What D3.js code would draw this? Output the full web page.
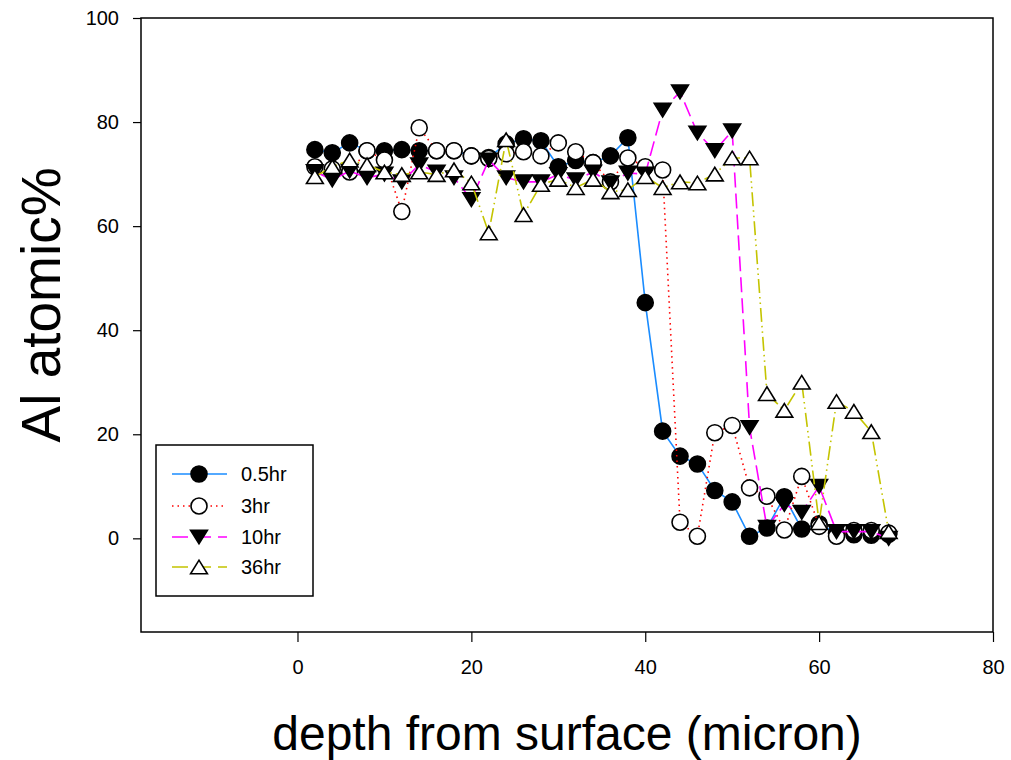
<!DOCTYPE html>
<html>
<head>
<meta charset="utf-8">
<script src="https://cdn.jsdelivr.net/npm/d3@7"></script>
<style>
  html, body { margin: 0; padding: 0; background: #fff; }
  svg { display: block; }
  text { font-family: "Liberation Sans", Arial, sans-serif; fill: #000; }
</style>
</head>
<body>
<svg id="chart" width="1011" height="760"></svg>
<script>
// Depth (micron) of each measurement
const depth = [2,4,6,8,10,12,14,16,18,20,22,24,26,28,30,32,34,36,38,40,42,44,46,48,50,52,54,56,58,60,62,64,66,68];

// Al atomic% per anneal time
const al05hr = [74.7,74.1,76.0,74.5,74.5,74.7,74.5,74.5,74.5,73.5,73.2,75.8,76.8,76.4,71.4,72.6,72.2,73.5,77.0,45.3,20.6,15.8,14.3,9.2,7.0,0.4,2.0,8.0,1.8,2.8,1.0,0.7,0.6,0.8];
const al3hr  = [71.4,71.0,70.4,74.5,72.7,62.8,78.9,74.5,74.5,73.5,73.0,73.9,74.3,73.5,76.0,74.3,72.2,68.5,73.1,71.4,70.8,3.1,0.4,20.3,21.7,9.7,8.1,1.6,11.9,2.3,0.4,1.5,1.5,1.0];
const al10hr = [70.5,68.9,70.6,69.3,70.0,68.5,71.8,70.4,69.3,65.1,72.7,69.3,68.5,68.5,69.9,68.9,70.4,68.3,70.2,70.0,82.3,85.8,77.9,74.5,78.3,21.3,2.1,6.5,5.0,10.0,1.3,1.3,1.3,0.0];
const al36hr = [69.5,71.4,72.7,71.8,70.4,69.9,70.4,69.9,70.8,68.3,58.7,76.6,62.2,68.0,69.0,67.4,69.0,66.6,67.0,69.5,67.4,68.5,68.3,70.0,73.1,73.1,27.8,24.6,30.0,3.0,26.3,24.4,20.5,1.3];

const seriesNames = ["0.5hr","3hr","10hr","36hr"];
const xTicks = [0,20,40,60,80];
const yTicks = [0,20,40,60,80,100];

const series = [
  { name: seriesNames[0], values: al05hr, color: "#1a8cff", dash: null,              marker: "circleFilled" },
  { name: seriesNames[1], values: al3hr,  color: "#ff0000", dash: "1.5,4",           marker: "circleOpen" },
  { name: seriesNames[2], values: al10hr, color: "#ff00ff", dash: "15,6",            marker: "triDown" },
  { name: seriesNames[3], values: al36hr, color: "#c4c400", dash: "14,4,1.5,4,1.5,4", marker: "triUp" }
];

const svg = d3.select("#chart");
const plotL = 141, plotR = 993, plotT = 18, plotB = 632;

const x = d3.scaleLinear().domain([-18, 80]).range([plotL, plotR]);
const y = d3.scaleLinear().domain([-18, 100]).range([plotB, plotT]);

// plot frame
svg.append("rect")
  .attr("x", plotL).attr("y", plotT)
  .attr("width", plotR - plotL).attr("height", plotB - plotT)
  .attr("fill", "none").attr("stroke", "#000").attr("stroke-width", 1.5);

// axes
const xAxis = svg.append("g")
  .attr("transform", `translate(0,${plotB})`)
  .call(d3.axisBottom(x).tickValues(xTicks).tickSize(10).tickPadding(18).tickFormat(d3.format("d")));
xAxis.select(".domain").remove();
xAxis.selectAll("line").attr("stroke-width", 1.2);
xAxis.selectAll("text").style("font-size", "20px");

const yAxis = svg.append("g")
  .attr("transform", `translate(${plotL},0)`)
  .call(d3.axisLeft(y).tickValues(yTicks).tickSize(8).tickPadding(14).tickFormat(d3.format("d")));
yAxis.select(".domain").remove();
yAxis.selectAll("line").attr("stroke-width", 1.2);
yAxis.selectAll("text").style("font-size", "20px");

// axis titles
svg.append("text")
  .attr("x", (272 + 862) / 2).attr("y", 750)
  .attr("text-anchor", "middle")
  .style("font-size", "48px")
  .text("depth from surface (micron)");

svg.append("text")
  .attr("transform", `translate(60,${305}) rotate(-90)`)
  .attr("text-anchor", "middle")
  .style("font-size", "55px")
  .text("Al atomic%");

// marker drawing
function drawMarker(sel, type, size) {
  const r = size / 2;
  if (type === "circleFilled" || type === "circleOpen") {
    sel.append("circle").attr("r", r)
      .attr("fill", type === "circleFilled" ? "#000" : "#fff")
      .attr("stroke", "#000").attr("stroke-width", 1.6);
  } else {
    const h = size * 0.85, w = size * 1.05;
    const pts = type === "triDown"
      ? [[-w/2, -h/2], [w/2, -h/2], [0, h/2]]
      : [[-w/2, h/2], [w/2, h/2], [0, -h/2]];
    sel.append("path")
      .attr("d", d3.line()(pts) + "Z")
      .attr("fill", type === "triDown" ? "#000" : "#fff")
      .attr("stroke", "#000").attr("stroke-width", 1.6)
      .attr("stroke-linejoin", "miter");
  }
}

const line = d3.line().x((d, i) => x(depth[i])).y(d => y(d));

// lines first, then markers, series in order
series.forEach(s => {
  svg.append("path")
    .datum(s.values)
    .attr("d", line)
    .attr("fill", "none")
    .attr("stroke", s.color)
    .attr("stroke-width", 1.6)
    .attr("stroke-dasharray", s.dash);
  const g = svg.append("g");
  s.values.forEach((v, i) => {
    const m = g.append("g").attr("transform", `translate(${x(depth[i])},${y(v)})`);
    drawMarker(m, s.marker, 16);
  });
});

// legend
const lg = svg.append("g");
lg.append("rect")
  .attr("x", 156).attr("y", 445).attr("width", 157).attr("height", 151)
  .attr("fill", "#fff").attr("stroke", "#000").attr("stroke-width", 1.5);
const legendY = [474, 506, 537, 567];
series.forEach((s, i) => {
  const ly = legendY[i];
  lg.append("line")
    .attr("x1", 172).attr("x2", 227).attr("y1", ly).attr("y2", ly)
    .attr("stroke", s.color).attr("stroke-width", 1.6)
    .attr("stroke-dasharray", s.dash === null ? null : (i === 1 ? "1.5,4" : "16,7"));
  const m = lg.append("g").attr("transform", `translate(199,${ly})`);
  drawMarker(m, s.marker, 16);
  lg.append("text")
    .attr("x", 241).attr("y", ly + 7)
    .style("font-size", "20px")
    .text(s.name);
});
</script>
</body>
</html>
